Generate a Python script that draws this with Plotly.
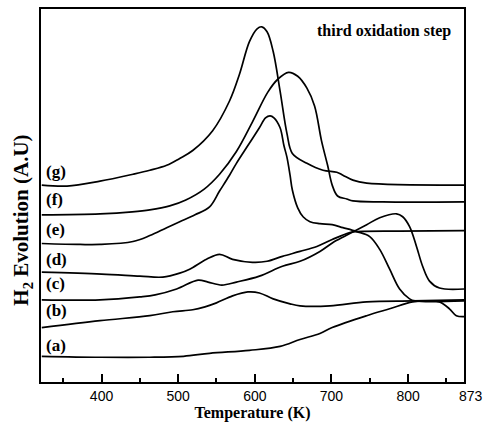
import plotly.graph_objects as go

# Temperatures (K) and H2 evolution (arbitrary units)
T_a = [322, 398, 463, 507, 541, 593, 633, 659, 685, 701, 746, 776, 806, 828, 841, 854, 863, 873]
I_a = [26, 25, 25, 26, 29, 32, 36, 43, 49, 55, 67, 74, 81, 82, 81, 74, 67, 66]

T_b = [322, 398, 463, 493, 519, 535, 550, 571, 591, 606, 624, 646, 659, 698, 746, 806, 873]
I_b = [55, 62, 67, 71, 73, 76, 80, 87, 91, 90, 84, 79, 77, 77, 81, 82, 83]

T_c = [322, 398, 450, 470, 498, 526, 539, 557, 576, 606, 636, 659, 685, 704, 724, 746, 763, 785, 793,
       802, 811, 819, 828, 841, 873]
I_c = [83, 83, 86, 88, 94, 103, 101, 98, 101, 107, 117, 122, 132, 142, 150, 159, 166, 170, 167,
       157, 137, 117, 102, 95, 94]

T_d = [322, 400, 450, 480, 502, 515, 537, 554, 571, 597, 616, 636, 659, 681, 701, 724, 733, 789, 873]
I_d = [111, 109, 107, 106, 110, 114, 124, 129, 124, 121, 122, 127, 132, 137, 144, 151, 152, 152.5, 153]

T_e = [322, 372, 398, 441, 463, 485, 502, 522, 541, 554, 567, 576, 591, 606, 614, 620, 625, 633, 638,
       642, 646, 649, 656, 663, 672, 685, 701, 715, 733, 750, 763, 776, 789, 802, 809, 873]
I_e = [140, 139, 139, 142, 148, 156, 162, 169, 177, 193, 209, 221, 239, 257, 267, 269, 267, 257, 239,
       227, 209, 194, 176, 167, 162, 160, 159, 156, 152, 147, 134, 114, 94, 84, 82, 82]

T_f = [322, 398, 440, 463, 489, 510, 534, 554, 576, 597, 617, 630, 644, 656, 668, 678, 687, 695, 701, 708,
       720, 728, 767, 873]
I_f = [169, 170, 172, 174, 178, 184, 195, 210, 233, 263, 293, 306, 313, 309, 297, 279, 244, 219, 199, 188,
       185, 183, 182, 182]

T_g = [322, 355, 398, 441, 463, 485, 502, 519, 545, 567, 580, 593, 603, 609, 616, 624, 633, 642, 649, 668,
       689, 707, 715, 728, 746, 873]
I_g = [199, 198, 203, 210, 214, 219, 226, 234, 254, 284, 311, 344, 357, 359, 354, 334, 294, 251, 231, 221,
       214, 212, 209, 204, 201, 199]

series = [("(a)", T_a, I_a), ("(b)", T_b, I_b), ("(c)", T_c, I_c), ("(d)", T_d, I_d),
          ("(e)", T_e, I_e), ("(f)", T_f, I_f), ("(g)", T_g, I_g)]

label_text = ["(a)", "(b)", "(c)", "(d)", "(e)", "(f)", "(g)"]
label_I = [37, 72, 100, 124, 154, 184, 213]

major_ticks = [400, 500, 600, 700, 800]
minor_ticks = [350, 450, 550, 650, 750, 850]
x_min, x_max = 321, 873

fig = go.Figure()
for name, T, I in series:
    fig.add_trace(go.Scatter(x=T, y=I, mode="lines", name=name,
                             line=dict(color="black", width=1.7, shape="spline", smoothing=1.0),
                             showlegend=False, hoverinfo="skip"))

serif = "Liberation Serif, Times New Roman, serif"
for txt, yv in zip(label_text, label_I):
    fig.add_annotation(x=325, y=yv, text="<b>%s</b>" % txt, showarrow=False,
                       xanchor="left", yanchor="middle", font=dict(family=serif, size=17, color="black"))

fig.add_annotation(x=0.975, y=0.942, xref="paper", yref="paper", text="<b>third oxidation step</b>",
                   showarrow=False, xanchor="right", yanchor="middle",
                   font=dict(family=serif, size=16, color="black"))

fig.add_annotation(x=873, y=0, yref="paper", text="873", showarrow=False, xanchor="center",
                   yanchor="top", xshift=7, yshift=-4,
                   font=dict(family="Liberation Sans, Arial, sans-serif", size=14, color="black"))

fig.add_annotation(x=-0.045, y=0.435, xref="paper", yref="paper",
                   text="<b>H<sub>2</sub> Evolution (A.U)</b>", textangle=-90, showarrow=False,
                   xanchor="center", yanchor="middle", font=dict(family=serif, size=21, color="black"))

fig.update_layout(
    width=489, height=424,
    margin=dict(l=41, r=25, t=7, b=40),
    paper_bgcolor="white", plot_bgcolor="white",
    xaxis=dict(range=[x_min, x_max], tickvals=major_ticks, ticktext=[str(v) for v in major_ticks],
               ticks="inside", ticklen=8, tickwidth=1.5, tickcolor="black",
               minor=dict(tickvals=minor_ticks, ticks="inside", ticklen=4, tickwidth=1.5, tickcolor="black"),
               showline=True, linecolor="black", linewidth=2, mirror=True, showgrid=False, zeroline=False,
               tickfont=dict(family="Liberation Sans, Arial, sans-serif", size=14, color="black"),
               title=dict(text="<b>Temperature (K)</b>", font=dict(family=serif, size=16, color="black"),
                          standoff=2)),
    yaxis=dict(range=[0, 377], showticklabels=False, ticks="", showline=True, linecolor="black",
               linewidth=2, mirror=True, showgrid=False, zeroline=False),
)

fig.write_html("out.html", config={"displayModeBar": False},
               post_script="document.body.style.margin='0';document.body.style.padding='0';")
